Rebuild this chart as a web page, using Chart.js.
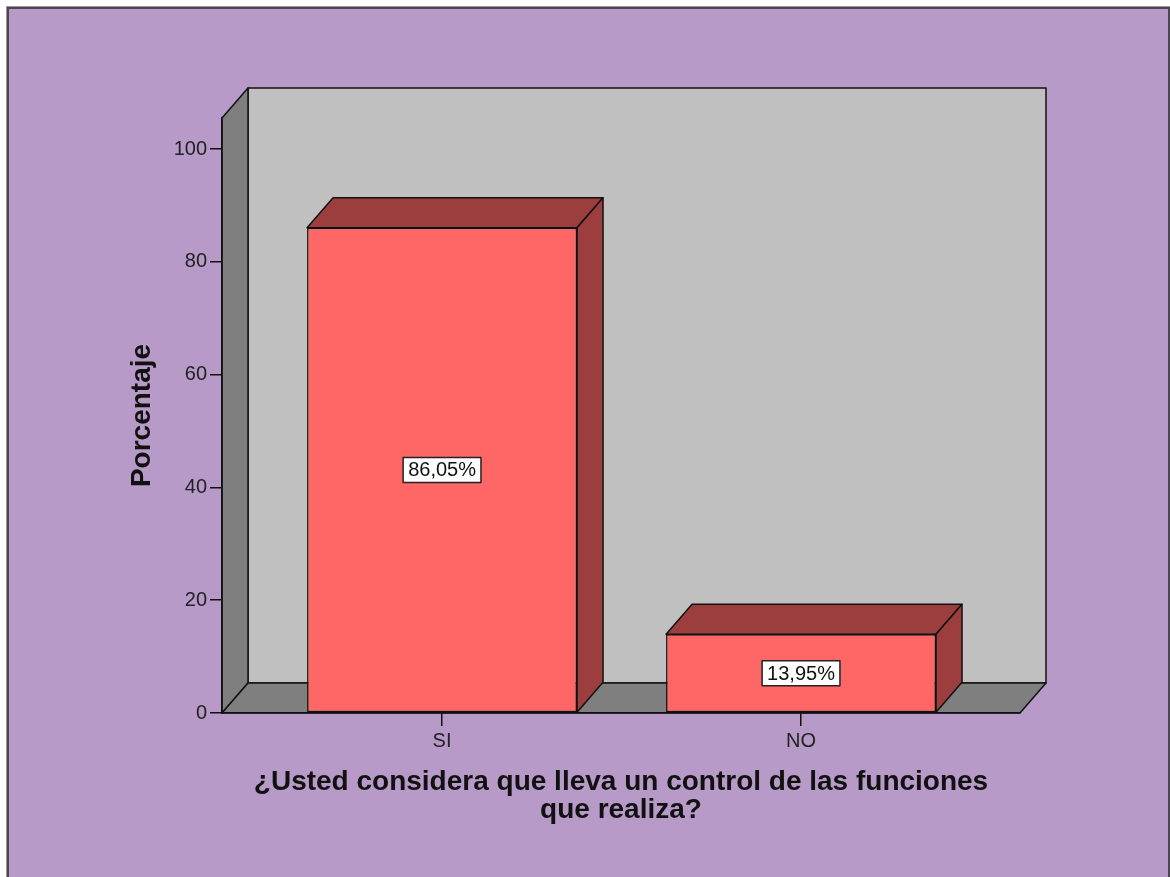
<!DOCTYPE html>
<html>
<head>
<meta charset="utf-8">
<title>Control de funciones</title>
<script src="https://cdn.jsdelivr.net/npm/chart.js@4.4.1/dist/chart.umd.min.js"></script>
<style>
  html, body { margin: 0; padding: 0; background: #fff; }
  body { width: 1170px; height: 877px; position: relative; overflow: hidden; }
  .frame {
    position: absolute; left: 7px; top: 7px; right: 0; bottom: -4px;
    background: #b79ac8;
    border: 2px solid #4b4650;
    box-shadow: 0 0 0 1px #9a9a9a;
  }
  #grafico { position: absolute; left: 0; top: 0; }
</style>
</head>
<body>
<div class="frame"></div>
<canvas id="grafico" width="1170" height="877"></canvas>
<script>
// respuestas y porcentajes
const categories = ['SI', 'NO'];
const percentages = [86.05, 13.95];
const yTicks = [0, 20, 40, 60, 80, 100];

const FONT = '"Liberation Sans", Arial, sans-serif';
const DX = 26, DY = 30; // profundidad del efecto 3D

function poly(ctx, pts, fill) {
  ctx.beginPath();
  ctx.moveTo(pts[0][0], pts[0][1]);
  for (let i = 1; i < pts.length; i++) ctx.lineTo(pts[i][0], pts[i][1]);
  ctx.closePath();
  ctx.fillStyle = fill;
  ctx.fill();
  ctx.lineWidth = 1.5;
  ctx.strokeStyle = '#111';
  ctx.stroke();
}

/* Paredes y suelo de la caja 3D */
const walls = {
  id: 'walls',
  beforeDraw(chart) {
    const ctx = chart.ctx;
    const a = chart.chartArea;
    ctx.save();
    ctx.lineJoin = 'round';
    poly(ctx, [[a.left + DX, a.top - DY], [a.right + DX, a.top - DY],
               [a.right + DX, a.bottom - DY], [a.left + DX, a.bottom - DY]], '#c0c0c0');
    poly(ctx, [[a.left, a.bottom], [a.left, a.top],
               [a.left + DX, a.top - DY], [a.left + DX, a.bottom - DY]], '#7f7f7f');
    poly(ctx, [[a.left, a.bottom], [a.right, a.bottom],
               [a.right + DX, a.bottom - DY], [a.left + DX, a.bottom - DY]], '#7f7f7f');
    ctx.restore();
  }
};

/* Caras superior y lateral de las barras + etiquetas de valor */
const bars3d = {
  id: 'bars3d',
  afterDatasetsDraw(chart) {
    const ctx = chart.ctx;
    const meta = chart.getDatasetMeta(0);
    ctx.save();
    ctx.lineJoin = 'round';
    meta.data.forEach((bar, i) => {
      const l = bar.x - bar.width / 2, r = bar.x + bar.width / 2;
      const t = bar.y, b = bar.base;
      poly(ctx, [[l, t], [r, t], [r + DX, t - DY], [l + DX, t - DY]], '#9c3e3e');
      poly(ctx, [[r, t], [r, b], [r + DX, b - DY], [r + DX, t - DY]], '#9c3e3e');

      const txt = percentages[i].toFixed(2).replace('.', ',') + '%';
      ctx.font = '20px ' + FONT;
      const w = ctx.measureText(txt).width + 10;
      const h = 25;
      const cy = (t + b) / 2;
      ctx.fillStyle = '#fff';
      ctx.fillRect(bar.x - w / 2, cy - h / 2, w, h);
      ctx.lineWidth = 1.5;
      ctx.strokeStyle = '#222';
      ctx.strokeRect(bar.x - w / 2, cy - h / 2, w, h);
      ctx.fillStyle = '#111';
      ctx.textAlign = 'center';
      ctx.textBaseline = 'middle';
      ctx.fillText(txt, bar.x, cy + 1);
    });
    ctx.restore();
  }
};

new Chart(document.getElementById('grafico'), {
  type: 'bar',
  data: {
    datasets: [{
      data: categories.map((c, i) => ({ x: i, y: percentages[i] })),
      backgroundColor: '#ff6666',
      borderColor: '#111',
      borderWidth: 1.5,
      borderSkipped: false,
      categoryPercentage: 1,
      barPercentage: 0.752
    }]
  },
  options: {
    responsive: false,
    animation: false,
    layout: { padding: { left: 110, right: 150, top: 118, bottom: 40 } },
    plugins: { legend: { display: false }, tooltip: { enabled: false } },
    scales: {
      x: {
        type: 'linear',
        min: -0.613,
        max: 1.61,
        offset: false,
        bounds: 'data',
        afterBuildTicks: s => { s.ticks = categories.map((c, i) => ({ value: i })); },
        afterFit: s => { s.height = 124; },
        ticks: {
          callback: v => categories[v],
          color: '#222',
          font: { family: FONT, size: 20 },
          padding: 3,
          autoSkip: false,
          maxRotation: 0
        },
        grid: { offset: false, drawOnChartArea: false, drawTicks: true, tickLength: 13, color: '#111', lineWidth: 1.5 },
        border: { display: true, color: '#111', width: 1.5 },
        title: {
          display: true,
          text: ['¿Usted considera que lleva un control de las funciones', 'que realiza?'],
          color: '#111',
          font: { family: FONT, size: 28, weight: 'bold', lineHeight: 1.0 },
          padding: { top: 0, bottom: 13 }
        }
      },
      y: {
        min: 0,
        max: 105.5,
        afterBuildTicks: s => { s.ticks = yTicks.map(v => ({ value: v })); },
        afterFit: s => { s.width = 112; },
        ticks: {
          color: '#222',
          font: { family: FONT, size: 20 },
          padding: 3
        },
        grid: { drawOnChartArea: false, drawTicks: true, tickLength: 12, color: '#111', lineWidth: 1.5 },
        border: { display: true, color: '#111', width: 1.5 },
        title: {
          display: true,
          text: 'Porcentaje',
          color: '#111',
          font: { family: FONT, size: 28, weight: 'bold' },
          padding: { top: 15, bottom: 0 }
        }
      }
    }
  },
  plugins: [walls, bars3d]
});
</script>
</body>
</html>
